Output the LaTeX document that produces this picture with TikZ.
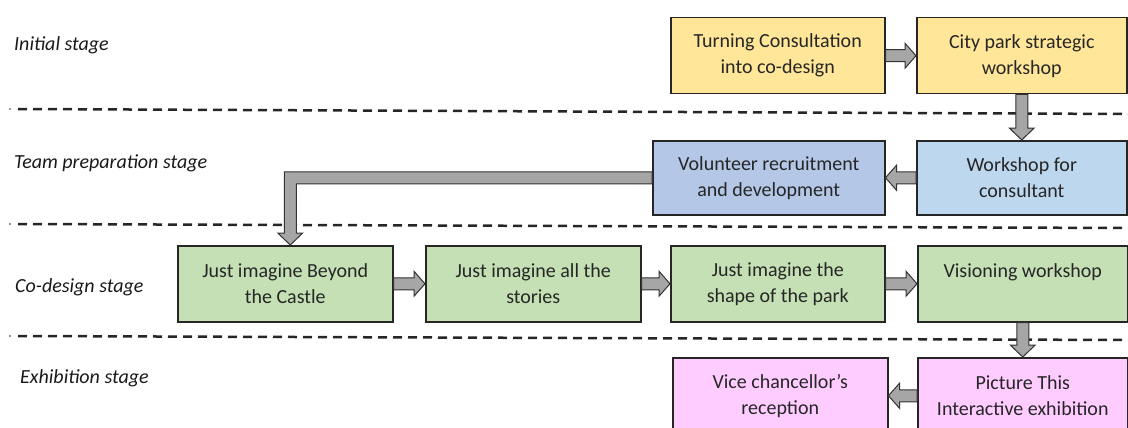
\documentclass[tikz,border=0pt]{standalone}
\usepackage{fontspec}
\setmainfont{Carlito}
\usetikzlibrary{calc}
\definecolor{yel}{HTML}{FFE699}
\definecolor{blueA}{HTML}{B4C7E7}
\definecolor{blueB}{HTML}{BDD7EE}
\definecolor{grn}{HTML}{C5E0B4}
\definecolor{pnk}{HTML}{FFCCFF}
\definecolor{arrfill}{HTML}{A6A6A6}
\definecolor{txt}{HTML}{262626}
\newcommand\blkright[2]{%
  \draw[barrow] ($(#1.east)+(0,-6)$) -- ($(#2.west)+(-11,-6)$) -- ($(#2.west)+(-11,-12.5)$) -- (#2.west) -- ($(#2.west)+(-11,12.5)$) -- ($(#2.west)+(-11,6)$) -- ($(#1.east)+(0,6)$) -- cycle;}
\newcommand\blkleft[2]{%
  \draw[barrow] ($(#1.west)+(0,-6)$) -- ($(#2.east)+(11,-6)$) -- ($(#2.east)+(11,-12.5)$) -- (#2.east) -- ($(#2.east)+(11,12.5)$) -- ($(#2.east)+(11,6)$) -- ($(#1.west)+(0,6)$) -- cycle;}
\newcommand\blkdown[2]{%
  \draw[barrow] let \p1=(#1.south), \p2=(#2.north) in
    ({\x1-6pt},\y1) -- ({\x1-6pt},{\y2+12pt}) -- ({\x1-12.5pt},{\y2+12pt}) -- (\x1,\y2) -- ({\x1+12.5pt},{\y2+12pt}) -- ({\x1+6pt},{\y2+12pt}) -- ({\x1+6pt},\y1) -- cycle;}
\begin{document}
\begin{tikzpicture}[x=1pt,y=-1pt,
  box/.style={draw=black!85, line width=1.5pt, align=center, text=txt,
    font=\fontsize{20}{26}\selectfont, inner sep=0pt, anchor=north west},
  barrow/.style={fill=arrfill, draw=black!80, line width=1pt, line join=miter},
  sep/.style={line width=2.5pt, dash pattern=on 9pt off 6pt, draw=black!85},
  stage/.style={anchor=west, font=\fontsize{20}{24}\selectfont\itshape, text=black!90, inner sep=0pt}]
\useasboundingbox (0,0) rectangle (1128,428);
% stage labels
\node[stage] (s1) at (14,45) {Initial stage};
\node[stage] (s2) at (14,163) {Team preparation stage};
\node[stage] (s3) at (15,287) {Co-design stage};
\node[stage] (s4) at (20,378) {Exhibition stage};
% separators
\draw[sep] (18,109) -- (1128,114);
\draw[sep] (18,224) -- (1128,228);
\draw[sep] (18,336) -- (1128,340);
\fill[black!80] (10,109) circle (0.8);
\fill[black!80] (10,224) circle (0.8);
\fill[black!80] (10,336) circle (0.8);
% boxes
\node[box, fill=yel, minimum width=214, minimum height=76] (t1) at (670,17) {Turning Consultation\\into co-design};
\node[box, fill=yel, minimum width=210, minimum height=76] (t2) at (916,17) {City park strategic\\workshop};
\node[box, fill=blueA, minimum width=232, minimum height=74] (v) at (652,140) {Volunteer recruitment\\and development};
\node[box, fill=blueB, minimum width=210, minimum height=74] (w) at (916,140) {Workshop for\\consultant};
\node[box, fill=grn, minimum width=215, minimum height=76] (j1) at (177,245) {Just imagine Beyond\\the Castle};
\node[box, fill=grn, minimum width=215, minimum height=76] (j2) at (425,245) {Just imagine all the\\stories};
\node[box, fill=grn, minimum width=214, minimum height=76] (j3) at (670,245) {Just imagine the\\shape of the park};
\node[box, fill=grn, minimum width=210, minimum height=76] (j4) at (917,245) {Visioning workshop\\\phantom{x}};
\node[box, fill=pnk, minimum width=215, minimum height=76] (vc) at (672,357) {Vice chancellor’s\\reception};
\node[box, fill=pnk, minimum width=210, minimum height=76] (p) at (917,357) {Picture This\\Interactive exhibition};
% arrows
\blkright{t1}{t2}
\blkdown{t2}{w}
\blkleft{w}{v}
\draw[barrow] let \p1=(v.west), \p2=(j1.north) in
  (\x1,{\y1+6pt}) -- ({\x2-1pt},{\y1+6pt}) -- ({\x2-1pt},{\y2+12pt}) -- ({\x2-7.5pt},{\y2+12pt}) -- ({\x2+5pt},\y2) -- ({\x2+17.5pt},{\y2+12pt}) -- ({\x2+11pt},{\y2+12pt}) -- ({\x2+11pt},{\y1-6pt}) -- (\x1,{\y1-6pt}) -- cycle;
\blkright{j1}{j2}
\blkright{j2}{j3}
\blkright{j3}{j4}
\blkdown{j4}{p}
\blkleft{p}{vc}
\end{tikzpicture}
\end{document}
